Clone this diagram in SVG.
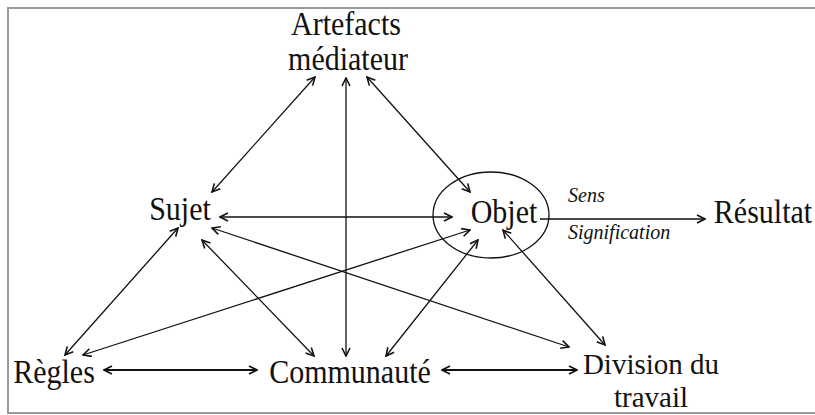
<svg xmlns="http://www.w3.org/2000/svg" width="815" height="415" viewBox="0 0 815 415">
<defs>
<marker id="ah" viewBox="0 0 10 10" refX="9" refY="5" markerWidth="10" markerHeight="10" markerUnits="userSpaceOnUse" orient="auto-start-reverse">
<path d="M1,1 L9,5 L1,9" fill="none" stroke="#111" stroke-width="1.6" stroke-linejoin="miter"/>
</marker>
</defs>
<style>
.lbl{font-family:'Liberation Serif','DejaVu Serif',serif;font-size:30px;fill:#111;text-anchor:middle}
.it{font-family:'Liberation Serif','DejaVu Serif',serif;font-size:20px;font-style:italic;fill:#111}
.c{fill:none;stroke:#111;stroke-width:1.3}
.cb{fill:none;stroke:#111;stroke-width:2.2}
</style>
<rect x="0" y="0" width="815" height="415" fill="#fff"/>
<path d="M820,8 H8 V413 H820" fill="none" stroke="#9a9a9a" stroke-width="2"/>
<g id="connectors">
<line class="c" x1="212" y1="192" x2="315" y2="77" marker-start="url(#ah)" marker-end="url(#ah)"/>
<line class="c" x1="367" y1="77" x2="470" y2="192" marker-start="url(#ah)" marker-end="url(#ah)"/>
<line class="c" x1="346" y1="78" x2="346" y2="356" marker-start="url(#ah)" marker-end="url(#ah)"/>
<line class="c" x1="220" y1="217" x2="452" y2="217" marker-start="url(#ah)" marker-end="url(#ah)"/>
<line class="c" x1="178" y1="228" x2="65" y2="355" marker-start="url(#ah)" marker-end="url(#ah)"/>
<line class="c" x1="202" y1="240" x2="314" y2="356" marker-start="url(#ah)" marker-end="url(#ah)"/>
<line class="c" x1="212" y1="228" x2="569" y2="347" marker-start="url(#ah)" marker-end="url(#ah)"/>
<line class="c" x1="83" y1="355" x2="470" y2="230" marker-start="url(#ah)" marker-end="url(#ah)"/>
<line class="c" x1="386" y1="356" x2="478" y2="240" marker-start="url(#ah)" marker-end="url(#ah)"/>
<line class="c" x1="503" y1="230" x2="605" y2="345" marker-start="url(#ah)" marker-end="url(#ah)"/>
<line class="c" x1="540" y1="219" x2="705" y2="219" marker-end="url(#ah)"/>
<line class="cb" x1="104" y1="370" x2="257" y2="370" marker-start="url(#ah)" marker-end="url(#ah)"/>
<line class="cb" x1="442" y1="370" x2="577" y2="370" marker-start="url(#ah)" marker-end="url(#ah)"/>
</g>
<g id="artefacts">
<text class="lbl" font-family="Liberation Serif, serif" transform="translate(346,35) scale(1,1.1)">Artefacts</text>
<text class="lbl" font-family="Liberation Serif, serif" transform="translate(348,70) scale(1,1.1)">médiateur</text>
</g>
<g id="sujet">
<text class="lbl" font-family="Liberation Serif, serif" transform="translate(180,220) scale(1,1.1)">Sujet</text>
</g>
<g id="objet">
<ellipse cx="491" cy="215" rx="58" ry="43" fill="none" stroke="#111" stroke-width="1.3"/>
<text class="lbl" font-family="Liberation Serif, serif" transform="translate(504,223) scale(1,1.1)">Objet</text>
</g>
<g id="sens">
<text class="it" font-family="Liberation Serif, serif" x="568" y="202">Sens</text>
<text class="it" font-family="Liberation Serif, serif" x="568" y="239">Signification</text>
</g>
<g id="resultat">
<text class="lbl" font-family="Liberation Serif, serif" transform="translate(763,223) scale(1,1.1)">Résultat</text>
</g>
<g id="regles">
<text class="lbl" font-family="Liberation Serif, serif" transform="translate(54,383) scale(1,1.1)">Règles</text>
</g>
<g id="communaute">
<text class="lbl" font-family="Liberation Serif, serif" transform="translate(350,383) scale(1,1.1)">Communauté</text>
</g>
<g id="division">
<text class="lbl" font-family="Liberation Serif, serif" style="font-size:29px" x="651" y="374">Division du</text>
<text class="lbl" font-family="Liberation Serif, serif" style="font-size:29px" x="651" y="407">travail</text>
</g>
</svg>
